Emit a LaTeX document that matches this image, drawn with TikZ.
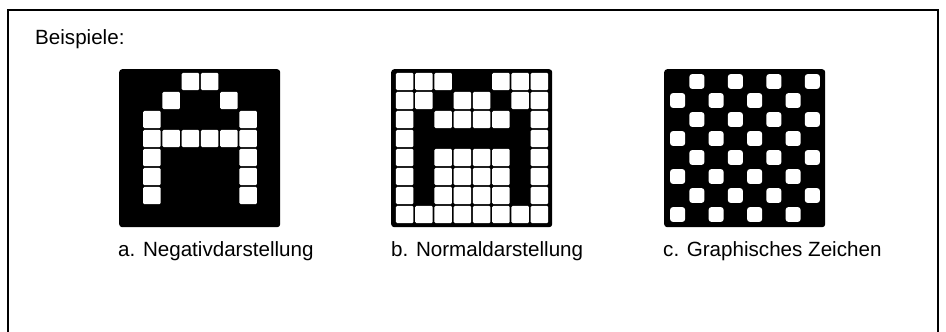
\documentclass[tikz,border=0pt]{standalone}
\usepackage{fontspec}
\setmainfont{Liberation Sans}
\begin{document}
\begin{tikzpicture}[x=1pt,y=-1pt,
  lbl/.style={anchor=base west, inner sep=0pt, font=\fontsize{20.6}{24}\selectfont},
  gridbox/.style={fill=black, rounded corners=3pt, minimum width=161pt, minimum height=158pt, anchor=north west, inner sep=0pt},
  cellw/.style={fill=white, rounded corners=1.2pt},
  cellc/.style={fill=white, rounded corners=2.5pt},
  frame/.style={line width=2pt}]
\useasboundingbox (0,0) rectangle (946,332);
\draw[frame] (8,332) -- (8,10) -- (938,10) -- (938,332);
\node[lbl] (title) at (35,45) {Beispiele:};
% grid a
\node[gridbox] (gridA) at (119,69) {};
\begin{scope}[shift={(gridA.north west)}]
  \foreach \c/\r in {3/0,4/0,2/1,5/1,1/2,6/2,1/3,2/3,3/3,4/3,5/3,6/3,1/4,6/4,1/5,6/5,1/6,6/6}
    \fill[cellw] ({4+\c*19.25+0.9},{3+\r*19+0.9}) rectangle ({4+(\c+1)*19.25-0.9},{3+(\r+1)*19-0.9});
\end{scope}
% grid b
\node[gridbox] (gridB) at (391,69) {};
\begin{scope}[shift={(gridB.north west)}]
  \foreach \c in {0,...,7}
    \foreach \r in {0,...,7}
      \fill[cellw] ({4+\c*19.25+0.9},{3+\r*19+0.9}) rectangle ({4+(\c+1)*19.25-0.9},{3+(\r+1)*19-0.9});
  \foreach \c/\r in {3/0,4/0,2/1,5/1,1/2,6/2,1/3,2/3,3/3,4/3,5/3,6/3,1/4,6/4,1/5,6/5,1/6,6/6}
    \fill[black] ({4+\c*19.25},{3+\r*19}) rectangle ({4+(\c+1)*19.25},{3+(\r+1)*19});
\end{scope}
% grid c
\node[gridbox] (gridC) at (664,69) {};
\begin{scope}[shift={(gridC.north west)}]
  \foreach \c in {0,...,7}
    \foreach \r in {0,...,7} {
      \pgfmathtruncatemacro{\odd}{mod(\c+\r,2)}
      \ifnum\odd=1
        \fill[cellc] ({4+\c*19.25+2.2},{3+\r*19+2.2}) rectangle ({4+(\c+1)*19.25-2.2},{3+(\r+1)*19-2.2});
      \fi
    }
\end{scope}
\node[lbl] (labA) at (118,256) {a. Negativdarstellung};
\node[lbl] (labB) at (391,256) {b. Normaldarstellung};
\node[lbl] (labC) at (663,256) {c. Graphisches Zeichen};
\end{tikzpicture}
\end{document}
